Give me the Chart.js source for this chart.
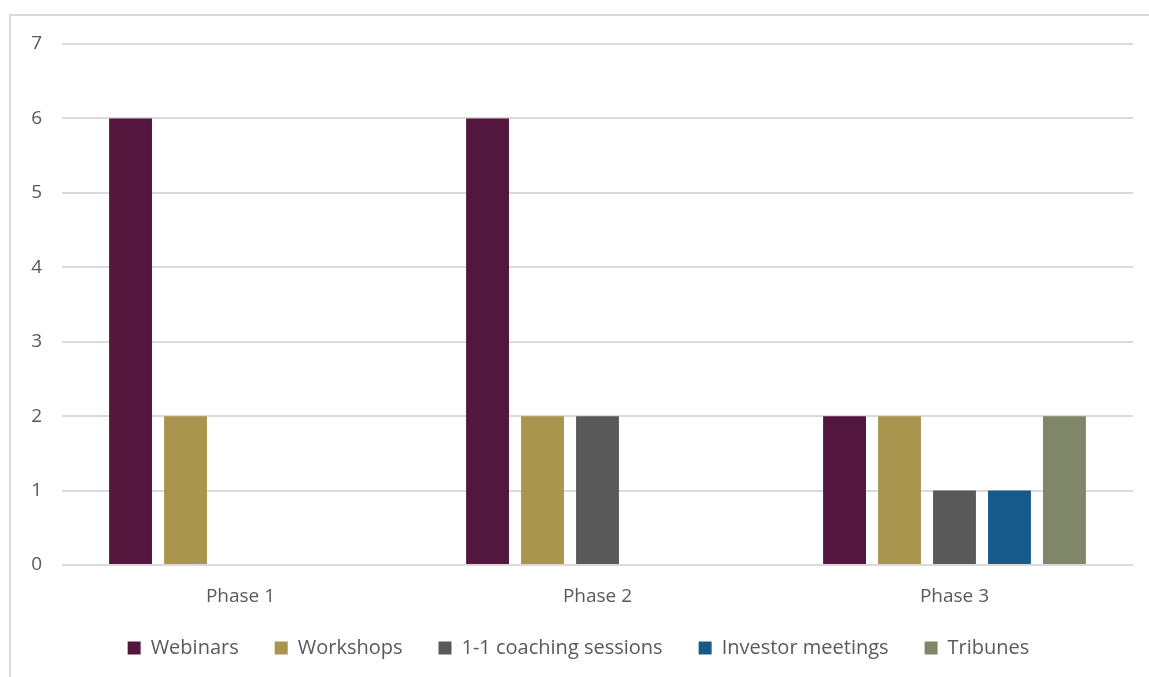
<!DOCTYPE html>
<html>
<head>
<meta charset="utf-8">
<script src="https://cdn.jsdelivr.net/npm/chart.js@4"></script>
<style>
  html, body { margin: 0; padding: 0; background: #fff; overflow: hidden; }
  #frame { position: absolute; left: 9px; top: 14px; width: 1200px; height: 700px; border: 2px solid #d9d9d9; box-sizing: border-box; }
  #wrap { position: absolute; left: 0; top: 0; width: 1149px; height: 677px; }
</style>
</head>
<body>
<div id="frame"></div>
<div id="wrap"><canvas id="chart"></canvas></div>
<script>
const phases = ['Phase 1', 'Phase 2', 'Phase 3'];
const webinars = [6, 6, 2];
const workshops = [2, 2, 2];
const coaching = [0, 2, 1];
const investorMeetings = [0, 0, 1];
const tribunes = [0, 0, 2];

const series = [
  ['Webinars', webinars, '#53163c'],
  ['Workshops', workshops, '#aa954e'],
  ['1-1 coaching sessions', coaching, '#595959'],
  ['Investor meetings', investorMeetings, '#165a8a'],
  ['Tribunes', tribunes, '#7f866a'],
];

const font = 'Open Sans';

new Chart(document.getElementById('chart'), {
  type: 'bar',
  data: {
    labels: phases,
    datasets: series.map(([label, data, color]) => ({
      label,
      data,
      backgroundColor: color,
      borderWidth: 0,
      categoryPercentage: 0.77,
      barPercentage: 0.78,
    })),
  },
  options: {
    responsive: true,
    maintainAspectRatio: false,
    animation: false,
    layout: { padding: { left: 24, right: 16, top: 44, bottom: 9 } },
    plugins: {
      tooltip: { enabled: false },
      legend: {
        position: 'bottom',
        labels: {
          color: '#595959',
          font: { family: font, size: 20 },
          boxWidth: 13,
          boxHeight: 13,
          padding: 36,
        },
      },
    },
    scales: {
      x: {
        grid: { display: false },
        border: { display: false },
        ticks: { color: '#595959', font: { family: font, size: 19 }, padding: 12 },
        afterFit: (scale) => { scale.height = 37; },
      },
      y: {
        min: 0,
        max: 7,
        ticks: { stepSize: 1, color: '#595959', font: { family: font, size: 19 }, padding: 20 },
        grid: { color: '#d9d9d9', lineWidth: 2, drawTicks: false },
        border: { display: false },
        afterFit: (scale) => { scale.width = 38; },
      },
    },
  },
});
</script>
</body>
</html>
